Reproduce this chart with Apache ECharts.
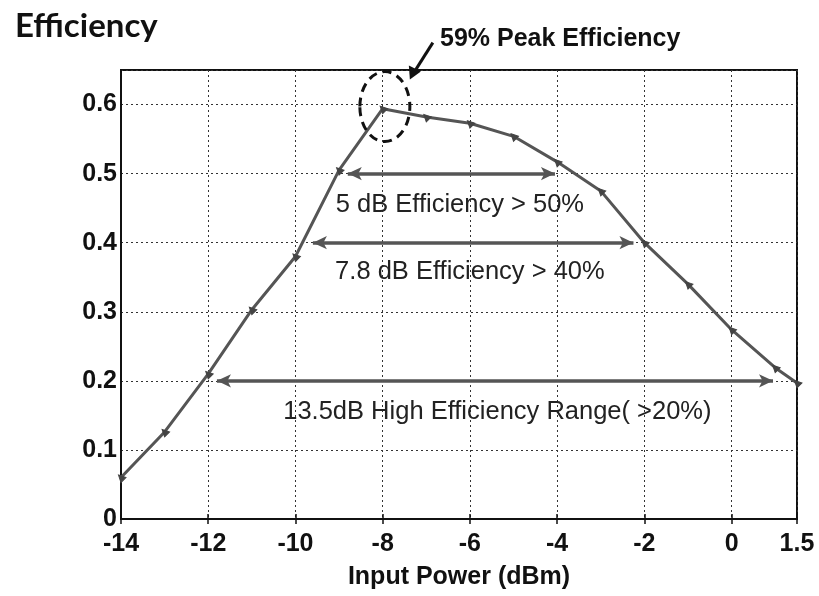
<!DOCTYPE html>
<html>
<head>
<meta charset="utf-8">
<script src="https://cdn.jsdelivr.net/npm/echarts@6/dist/echarts.min.js"></script>
<style>html,body{margin:0;padding:0;background:#fff;}#c{width:819px;height:596px;}</style>
</head>
<body>
<div id="c"></div>
<script>
// ---- data ----
var inputPower = [-14, -13, -12, -11, -10, -9, -8, -7, -6, -5, -4, -3, -2, -1, 0, 1, 1.5];
var efficiency = [0.06, 0.126, 0.21, 0.303, 0.38, 0.505, 0.594, 0.582, 0.573, 0.554, 0.517, 0.475, 0.40, 0.34, 0.274, 0.219, 0.197];
var xTicks = [-14, -12, -10, -8, -6, -4, -2, 0, 1.5];
var yTicks = [0, 0.1, 0.2, 0.3, 0.4, 0.5, 0.6];
var rangeLabels = ['5 dB Efficiency > 50%', '7.8 dB Efficiency > 40%', '13.5dB High Efficiency Range( >20%)'];
var rangeStart = [-8.8, -9.6, -11.8];
var rangeEnd = [-4.05, -2.25, 0.95];
var rangeLevel = [0.5, 0.4, 0.2];
var peakLabel = '59% Peak Efficiency';
var peakPoint = [-7.95, 0.597];

var FONT = '"Liberation Sans", Arial, sans-serif';
var chart = echarts.init(document.getElementById('c'), null, {renderer: 'canvas'});

var pts = inputPower.map(function (x, i) { return [x, efficiency[i]]; });
var arrows = rangeLabels.map(function (t, i) {
  return [{coord: [rangeStart[i], rangeLevel[i]]}, {coord: [rangeEnd[i], rangeLevel[i]]}];
});
var textPos = [[-6.23, 0.455], [-6.0, 0.358], [-5.37, 0.155]];
var texts = rangeLabels.map(function (t, i) {
  return {coord: textPos[i], value: t, symbol: 'circle', symbolSize: 0,
    label: {show: true, position: 'inside', formatter: t, fontFamily: FONT, fontSize: 25.5, color: '#222'}};
});

function fmtX(v) {
  for (var i = 0; i < xTicks.length; i++) if (Math.abs(v - xTicks[i]) < 1e-6) return String(xTicks[i]);
  return '';
}
function fmtY(v) {
  for (var i = 0; i < yTicks.length; i++) if (Math.abs(v - yTicks[i]) < 1e-6) return String(yTicks[i]);
  return '';
}

var axisLabelStyle = {fontFamily: FONT, fontSize: 25, fontWeight: 'bold', color: '#111'};

chart.setOption({
  animation: false,
  backgroundColor: '#fff',
  title: {text: 'Efficiency', left: 10, top: 5,
    textStyle: {fontFamily: 'Lato, "Open Sans", sans-serif', fontWeight: 'bold', fontSize: 33, color: '#111'}},
  grid: {left: 121, right: 22, top: 70, bottom: 77, show: true, borderColor: '#111', borderWidth: 2},
  xAxis: [{
    type: 'value', min: -14, max: 1.5, interval: 2,
    name: 'Input Power (dBm)', nameLocation: 'middle', nameGap: 46,
    nameTextStyle: {fontFamily: FONT, fontSize: 25, fontWeight: 'bold', color: '#111'},
    axisLine: {show: true, onZero: false, lineStyle: {color: '#111', width: 2}},
    axisTick: {show: true, inside: true, length: 5, lineStyle: {color: '#111', width: 1.5}},
    axisLabel: Object.assign({margin: 13, formatter: fmtX}, axisLabelStyle),
    splitLine: {show: true, lineStyle: {type: [2, 3], color: '#333', width: 1}}
  }, {
    type: 'value', position: 'top', min: -14, max: 1.5, interval: 2,
    axisLine: {show: false}, axisLabel: {show: false}, splitLine: {show: false},
    axisTick: {show: true, inside: true, length: 5, lineStyle: {color: '#111', width: 1.5}}
  }],
  yAxis: [{
    type: 'value', min: 0, max: 0.65, interval: 0.1,
    axisLine: {show: true, onZero: false, lineStyle: {color: '#111', width: 2}},
    axisTick: {show: false},
    axisLabel: Object.assign({margin: 4, formatter: fmtY}, axisLabelStyle),
    splitLine: {show: true, lineStyle: {type: [2, 3], color: '#333', width: 1}}
  }],
  series: [{
    type: 'line', data: pts, xAxisIndex: 0, yAxisIndex: 0,
    lineStyle: {color: '#555', width: 3},
    symbol: 'triangle', symbolSize: 7, symbolRotate: 45,
    itemStyle: {color: '#444', borderColor: '#444'},
    markLine: {
      silent: true, symbol: ['arrow', 'arrow'], symbolSize: [10, 14],
      label: {show: false},
      lineStyle: {type: 'solid', color: '#555', width: 3.5},
      data: arrows
    },
    markPoint: {silent: true, data: texts}
  }]
});

var c = chart.convertToPixel({gridIndex: 0}, peakPoint);
chart.setOption({
  graphic: [
    {type: 'ellipse', shape: {cx: c[0], cy: c[1], rx: 25, ry: 35},
      style: {fill: null, stroke: '#111', lineWidth: 3, lineDash: [9, 6]}, z: 100},
    {type: 'text', left: 440, top: 27,
      style: {text: peakLabel, fontFamily: FONT, fontWeight: 'bold', fontSize: 25, fill: '#111'}, z: 100},
    {type: 'line', shape: {x1: c[0] + 48, y1: c[1] - 64, x2: c[0] + 29, y2: c[1] - 34},
      style: {stroke: '#111', lineWidth: 3}, z: 100},
    {type: 'polygon', shape: {points: [[c[0] + 25, c[1] - 27], [c[0] + 24, c[1] - 41], [c[0] + 36, c[1] - 35]]},
      style: {fill: '#111'}, z: 100}
  ]
});
</script>
</body>
</html>
